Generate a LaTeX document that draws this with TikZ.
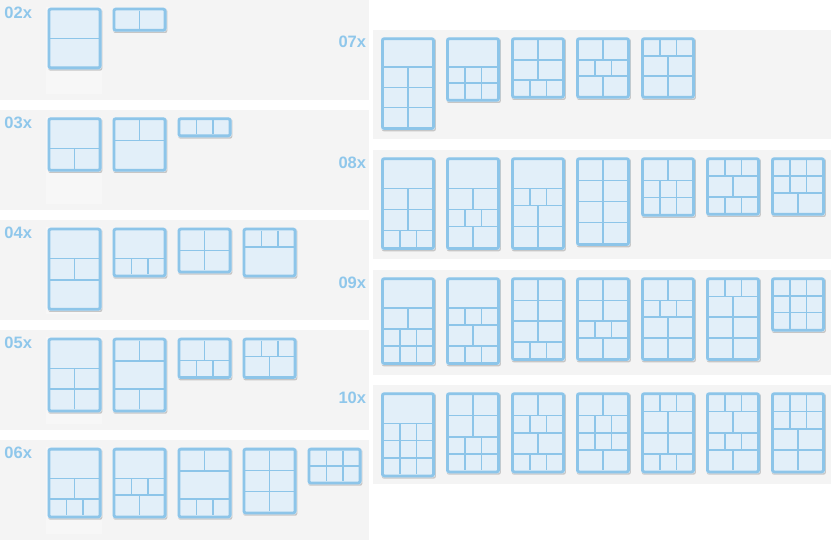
\documentclass[tikz,border=0pt]{standalone}
\usepackage{fontspec}
\setmainfont{Liberation Sans}
\definecolor{panelc}{HTML}{F4F4F4}
\definecolor{ghostc}{HTML}{F7F7F7}
\definecolor{borderc}{HTML}{8DC5E9}
\definecolor{cellc}{HTML}{E2EFF9}
\definecolor{labelc}{HTML}{8FC7EB}
\definecolor{shadowc}{HTML}{C6C6C6}
\tikzset{
  panel/.style={fill=panelc},
  ghost/.style={fill=ghostc},
  grplabel/.style={text=labelc, font=\fontsize{16.5}{18}\selectfont\bfseries, inner sep=0pt, anchor=base west},
  frameborder/.style={draw=borderc, line width=2.8pt, rounded corners=2pt},
  divider/.style={draw=borderc, line width=1.5pt},
  frameshadow/.style={fill=shadowc, rounded corners=2pt},
  framefill/.style={fill=cellc, rounded corners=2pt},
}
% \frm{x}{y}{height}{row list: 1,2,3 cells per row}
\newcommand\frm[4]{%
  \gdef\frmW{0}\gdef\frmN{0}%
  \foreach \rr in {#4}{%
    \pgfmathsetmacro\frmTa{\frmW+ifthenelse(\rr==1,27,ifthenelse(\rr==2,19.5,15.5))}\xdef\frmW{\frmTa}%
    \pgfmathtruncatemacro\frmTb{\frmN+1}\xdef\frmN{\frmTb}}%
  \pgfmathsetmacro\frmS{(#3-6-(\frmN-1)*1.5)/\frmW}%
  \xdef\frmS{\frmS}%
  \fill[frameshadow] (#1+0.8,#2+1.3) rectangle ++(54,#3);
  \fill[framefill] (#1,#2) rectangle ++(54,#3);
  \pgfmathsetmacro\frmTc{#2+3}\xdef\frmY{\frmTc}%
  \foreach \rr [count=\ii] in {#4}{%
    \pgfmathsetmacro\frmH{ifthenelse(\rr==1,27,ifthenelse(\rr==2,19.5,15.5))*\frmS}%
    \ifnum\ii>1 \draw[divider] (#1+2,\frmY-0.75) -- (#1+52,\frmY-0.75);\fi
    \ifnum\rr=2 \draw[divider] (#1+27,\frmY) -- (#1+27,\frmY+\frmH);\fi
    \ifnum\rr=3 \draw[divider] (#1+18.75,\frmY) -- (#1+18.75,\frmY+\frmH);
      \draw[divider] (#1+35.25,\frmY) -- (#1+35.25,\frmY+\frmH);\fi
    \pgfmathsetmacro\frmTc{\frmY+\frmH+1.5}\xdef\frmY{\frmTc}}%
  \draw[frameborder] (#1+1.4,#2+1.4) rectangle (#1+52.6,#2+#3-1.4);
}
\begin{document}
\begin{tikzpicture}[x=1pt,y=-1pt]
\useasboundingbox (0,0) rectangle (831,540);
% panels left
\foreach \t in {0,110,220,330,440}{
  \fill[panel] (0,\t) rectangle (369,\t+100);
  \fill[ghost] (45.5,\t+7) rectangle (101.5,\t+94);
}
% panels right
\fill[panel] (373,30) rectangle (831,139.3);
\fill[panel] (373,150) rectangle (831,259.3);
\fill[panel] (373,270) rectangle (831,374.7);
\fill[panel] (373,385) rectangle (831,484.3);
% labels
\node[grplabel] (l02) at (4.3,18.3) {02x};
\node[grplabel] (l03) at (4.3,128.3) {03x};
\node[grplabel] (l04) at (4.3,238.3) {04x};
\node[grplabel] (l05) at (4.3,348.3) {05x};
\node[grplabel] (l06) at (4.3,458.3) {06x};
\node[grplabel] (l07) at (338.3,47.7) {07x};
\node[grplabel] (l08) at (338.3,168.3) {08x};
\node[grplabel] (l09) at (338.3,288.3) {09x};
\node[grplabel] (l10) at (338.3,403.3) {10x};
% 02x
\frm{47.5}{7.7}{61.6}{1,1}
\frm{112.5}{7.7}{24}{2}
% 03x
\frm{47.5}{117.3}{54.4}{1,2}
\frm{112.5}{117.3}{54.4}{2,1}
\frm{177.5}{117.3}{20}{3}
% 04x
\frm{47.5}{227.7}{83}{1,2,1}
\frm{112.5}{227.7}{49.7}{1,3}
\frm{177.5}{227.7}{45.7}{2,2}
\frm{242.5}{227.7}{49.7}{3,1}
% 05x
\frm{47.5}{337.7}{74.7}{1,2,2}
\frm{112.5}{337.7}{74.7}{2,1,2}
\frm{177.5}{337.7}{41.3}{2,3}
\frm{242.5}{337.7}{41.3}{3,2}
% 06x
\frm{47.5}{447.7}{70.7}{1,2,3}
\frm{112.5}{447.7}{70.7}{1,3,2}
\frm{177.5}{447.7}{70.7}{2,1,3}
\frm{242.5}{447.7}{66.7}{2,2,2}
\frm{307.5}{447.7}{36.7}{3,3}
% 07x
\frm{381}{37.3}{92.7}{1,2,2,2}
\frm{446}{37.3}{64.4}{1,3,3}
\frm{511}{37.3}{61.3}{2,2,3}
\frm{576}{37.3}{61.3}{2,3,2}
\frm{641}{37.3}{61.3}{3,2,2}
% 08x
\frm{381}{157.3}{92.7}{1,2,2,3}
\frm{446}{157.3}{92.7}{1,2,3,2}
\frm{511}{157.3}{92.7}{1,3,2,2}
\frm{576}{157.3}{88.7}{2,2,2,2}
\frm{641}{157.3}{59.4}{2,3,3}
\frm{706}{157.3}{58.4}{3,2,3}
\frm{771}{157.3}{58.4}{3,3,2}
% 09x
\frm{381}{277.3}{87.7}{1,2,3,3}
\frm{446}{277.3}{87.7}{1,3,2,3}
\frm{511}{277.3}{83.7}{2,2,2,3}
\frm{576}{277.3}{83.7}{2,2,3,2}
\frm{641}{277.3}{83.7}{2,3,2,2}
\frm{706}{277.3}{83.7}{3,2,2,2}
\frm{771}{277.3}{54.3}{3,3,3}
% 10x
\frm{381}{392.3}{85}{1,3,3,3}
\frm{446}{392.3}{81}{2,2,3,3}
\frm{511}{392.3}{81}{2,3,2,3}
\frm{576}{392.3}{81}{2,3,3,2}
\frm{641}{392.3}{81}{3,2,2,3}
\frm{706}{392.3}{81}{3,2,3,2}
\frm{771}{392.3}{81}{3,3,2,2}
\end{tikzpicture}
\end{document}
